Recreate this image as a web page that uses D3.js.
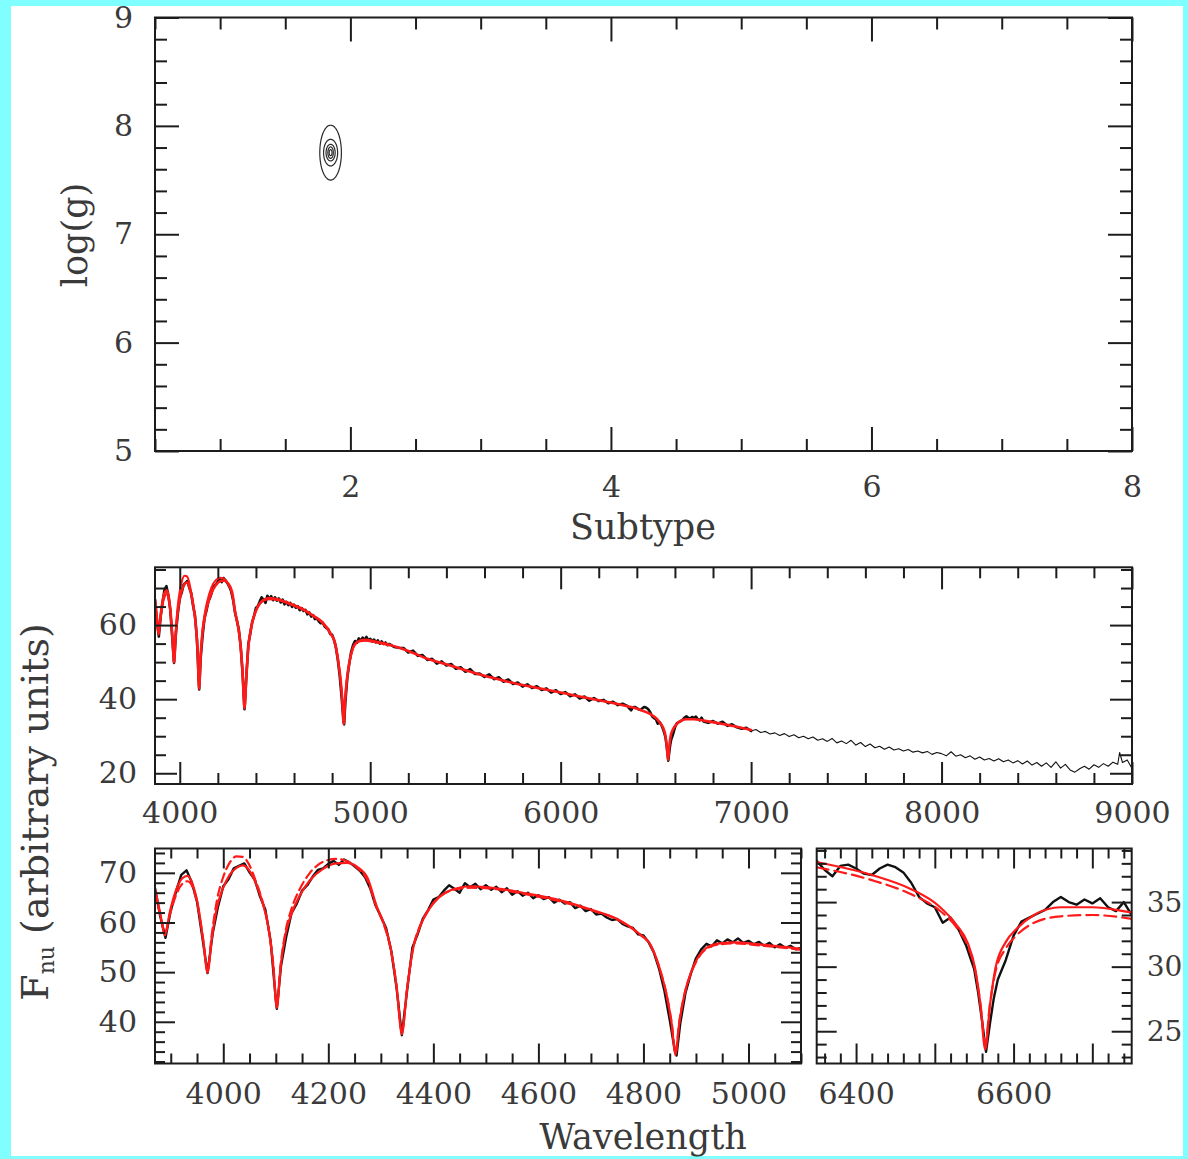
<!DOCTYPE html>
<html><head><meta charset="utf-8">
<script src="https://cdn.jsdelivr.net/npm/d3@7"></script>
<style>
html,body{margin:0;padding:0;background:#7fffff;}
svg{display:block;}
</style></head><body>
<script>
// ---------------- DATA ----------------
// Top panel: likelihood contours in (subtype, log g)
const contourCenter = [1.848, 7.753];
const contourSemiAxes = [[0.083,0.253],[0.054,0.123],[0.035,0.077],[0.021,0.053],[0.011,0.028]];

// Observed spectrum (wavelength, F_nu) in segments
const obsBlue = [[3870,66.9],[3880,61.2],[3890,56.9],[3900,62.4],[3910,66.2],[3920,69.6],[3930,70.5],[3940,68.1],[3950,64.2],[3960,57.1],[3970,49.8],[3980,57.9],[3990,63.2],[4000,67.3],[4010,68.7],[4020,70.9],[4030,71.4],[4040,71.9],[4050,70.1],[4060,68.6],[4070,65.2],[4080,62.6],[4090,56.4],[4100,44.5],[4102,42.6],[4110,51.3],[4120,57.2],[4130,61.9],[4140,63.8],[4150,66.4],[4160,67.5],[4170,69.2],[4180,70.6],[4190,70.9],[4200,71.8],[4210,72.4],[4220,71.6],[4230,72.7],[4240,72.1],[4250,71.3],[4260,70.4],[4270,69.1],[4280,66.8],[4290,63.4],[4300,61.2],[4310,58.9],[4320,54.2],[4330,46.8],[4340,37.3],[4350,46.3],[4360,54.9],[4370,57.6],[4380,60.8],[4390,62.5],[4400,64.6],[4410,65.1],[4420,66.4],[4430,67.5],[4440,66.8],[4450,66.0],[4460,67.9],[4470,67.1],[4480,67.8],[4490,66.7],[4500,67.5],[4510,66.6],[4520,67.2],[4530,66.1],[4540,66.9],[4550,65.6],[4560,66.3],[4570,65.4],[4580,66.0],[4590,64.9],[4600,65.5],[4610,64.7],[4620,65.1],[4630,64.0],[4640,64.6],[4650,63.8],[4660,64.1],[4670,62.9],[4680,63.4],[4690,62.3],[4700,62.7],[4710,61.6],[4720,61.8],[4730,61.0],[4740,60.5],[4750,60.7],[4760,59.7],[4770,59.2],[4780,58.9],[4790,57.6],[4800,57.4],[4810,56.0],[4820,53.9],[4830,50.6],[4840,46.2],[4850,40.4],[4860,34.0],[4863,33.2],[4870,39.6],[4880,45.8],[4890,49.6],[4900,52.8],[4910,54.6],[4920,55.7],[4930,55.2],[4940,56.4],[4950,55.8],[4960,56.6],[4970,56.0],[4980,56.8],[4990,55.9],[5000,56.3],[5010,55.6],[5020,56.1],[5030,55.3],[5040,55.9],[5050,55.0],[5060,55.6],[5070,54.9],[5080,55.3],[5090,54.6],[5100,54.9]];
const obsGreen = [[5125,54.1],[5150,53.9],[5175,53.8],[5200,52.6],[5225,53.1],[5250,51.7],[5275,51.9],[5300,50.6],[5325,50.9],[5350,49.6],[5375,50.2],[5400,49.1],[5425,49.5],[5450,48.2],[5475,48.6],[5500,47.4],[5525,48.1],[5550,46.8],[5575,46.9],[5600,46.0],[5625,46.7],[5650,45.4],[5675,45.9],[5700,44.7],[5725,45.3],[5750,44.1],[5775,44.5],[5800,43.4],[5825,44.0],[5850,43.0],[5875,43.5],[5900,42.5],[5925,42.9],[5950,41.8],[5975,42.4],[6000,41.4],[6025,41.9],[6050,40.8],[6075,41.3],[6100,40.2],[6125,40.7],[6150,39.6],[6175,40.3],[6200,39.5],[6225,39.8],[6250,38.9],[6275,39.3],[6300,38.4],[6325,38.8]];
const obsHalpha = [[6350,38.2],[6360,37.5],[6370,37.0],[6380,37.8],[6390,37.9],[6400,37.6],[6410,37.2],[6420,37.1],[6430,37.6],[6440,37.9],[6450,37.7],[6460,37.3],[6470,36.5],[6480,35.4],[6490,34.9],[6500,34.6],[6510,33.4],[6520,33.8],[6530,32.9],[6540,31.6],[6550,29.8],[6555,28.0],[6560,25.8],[6565,23.4],[6570,25.6],[6575,27.6],[6580,29.0],[6590,30.5],[6600,32.4],[6610,33.5],[6620,33.8],[6630,34.1],[6640,34.4],[6650,35.0],[6660,35.4],[6670,35.0],[6680,34.8],[6690,35.2],[6700,34.9],[6710,35.3],[6720,34.6],[6730,34.3],[6740,35.0],[6750,34.0]];
const obsRed = [[6775,33.6],[6800,34.1],[6825,33.4],[6850,33.9],[6875,32.8],[6900,33.2],[6925,32.4],[6950,32.0],[6975,32.3],[7000,31.4],[7025,31.8],[7050,31.0],[7075,31.3],[7100,30.6],[7125,30.9],[7150,30.2],[7175,30.7],[7200,29.9],[7225,30.4],[7250,29.6],[7275,30.0],[7300,29.3],[7325,29.8],[7350,28.9],[7375,29.3],[7400,28.6],[7425,29.4],[7450,28.2],[7475,28.7],[7500,28.0],[7525,28.9],[7550,27.6],[7575,28.3],[7600,27.2],[7625,27.9],[7650,26.9],[7675,27.3],[7700,26.5],[7725,27.1],[7750,26.3],[7775,26.6],[7800,26.0],[7825,26.4],[7850,25.7],[7875,26.0],[7900,25.5],[7925,25.9],[7950,25.1],[7975,25.6],[8000,25.3],[8025,24.7],[8050,25.8],[8075,24.6],[8100,25.0],[8125,24.2],[8150,24.7],[8175,23.8],[8200,24.4],[8225,23.6],[8250,24.0],[8275,23.3],[8300,23.9],[8325,23.1],[8350,23.6],[8375,22.8],[8400,23.4],[8425,22.5],[8450,23.3],[8475,22.2],[8500,22.9],[8525,21.9],[8550,22.8],[8575,21.6],[8600,23.1],[8625,21.4],[8650,22.4],[8675,20.9],[8700,20.3],[8725,21.2],[8750,21.9],[8775,21.1],[8800,22.3],[8825,21.6],[8850,22.6],[8875,21.9],[8900,23.0],[8925,22.4],[8935,25.6],[8950,22.9],[8975,23.6],[9000,21.3]];

// Best-fit model (solid red) and alternative model (dashed red)
const modelSolid = [[3870,66.8],[3880,61.8],[3889,57.4],[3898,62.0],[3910,66.5],[3922,68.9],[3932,69.4],[3942,67.6],[3952,63.4],[3962,56.2],[3970,49.9],[3978,56.6],[3988,63.0],[4000,67.0],[4012,69.6],[4025,71.0],[4037,71.5],[4050,70.4],[4062,67.9],[4074,64.3],[4086,58.9],[4095,51.5],[4102,42.8],[4109,51.0],[4118,57.4],[4130,61.8],[4145,65.3],[4165,68.5],[4190,70.8],[4215,71.9],[4235,72.0],[4255,71.2],[4275,68.9],[4292,63.3],[4305,60.0],[4318,55.2],[4330,47.0],[4340,37.5],[4350,46.6],[4362,55.0],[4375,59.3],[4392,62.7],[4410,65.0],[4435,66.6],[4470,67.3],[4520,66.9],[4580,65.8],[4640,64.5],[4700,62.6],[4750,60.7],[4790,57.9],[4815,55.2],[4833,50.0],[4845,45.0],[4854,39.4],[4861,33.3],[4868,39.6],[4878,45.5],[4890,49.8],[4904,53.0],[4920,54.9],[4945,55.8],[4975,56.0],[5020,55.6],[5100,54.7],[5200,53.0],[5300,50.9],[5400,49.4],[5500,47.8],[5600,46.3],[5700,45.0],[5800,43.8],[5900,42.8],[6000,41.8],[6100,40.7],[6200,39.7],[6300,38.7],[6350,38.1],[6420,37.1],[6470,36.0],[6505,34.7],[6528,33.2],[6542,31.8],[6551,29.9],[6558,27.0],[6564,23.6],[6570,27.0],[6577,29.9],[6590,31.9],[6605,33.0],[6626,34.0],[6660,34.6],[6700,34.6],[6750,34.2],[6850,33.3],[6930,32.5],[7000,31.7]];
const modelDashedBlue = [[3870,66.0],[3880,61.5],[3889,58.0],[3898,61.5],[3910,65.5],[3922,67.8],[3932,68.3],[3942,67.0],[3952,63.0],[3962,56.4],[3970,50.5],[3978,57.5],[3988,64.5],[4000,69.2],[4012,72.0],[4025,73.3],[4037,73.2],[4050,71.5],[4062,68.3],[4074,64.5],[4086,59.0],[4095,51.8],[4102,43.5],[4109,51.3],[4118,57.9],[4130,62.8],[4145,66.6],[4165,70.0],[4190,72.2],[4215,72.8],[4235,72.4],[4255,71.0],[4275,68.4],[4292,63.0],[4305,59.8],[4318,55.0],[4330,47.2],[4340,38.0],[4350,46.8],[4362,55.1],[4375,59.4],[4392,62.8],[4410,65.0],[4435,66.5],[4470,67.0],[4520,66.7],[4580,65.6],[4640,64.3],[4700,62.5],[4750,60.6],[4790,57.8],[4815,55.1],[4833,50.0],[4845,45.0],[4854,39.6],[4861,33.8],[4868,39.8],[4878,45.5],[4890,49.6],[4904,52.8],[4920,54.7],[4945,55.6],[4975,55.8],[5020,55.4],[5100,54.5]];
const modelDashedHalpha = [[6350,37.7],[6420,36.7],[6470,35.6],[6505,34.4],[6528,33.0],[6542,31.6],[6551,29.8],[6558,27.1],[6564,24.0],[6570,27.1],[6577,29.6],[6590,31.4],[6605,32.5],[6626,33.4],[6660,33.9],[6700,34.0],[6750,33.7]];

// Tick labels
const topXLabels = [2,4,6,8];
const topYLabels = [5,6,7,8,9];
const midXLabels = [4000,5000,6000,7000,8000,9000];
const midYLabels = [20,40,60];
const blXLabels = [4000,4200,4400,4600,4800,5000];
const blYLabels = [40,50,60,70];
const brXLabels = [6400,6600];
const brYLabels = [25,30,35];

// ---------------- DRAWING ----------------
const W = 1188, H = 1159;
const FONT = "'DejaVu Serif', 'Liberation Serif', serif";
const INK = '#1c1c1c', TXT = '#3a3a3a';
const RED = '#ff1a1a';
const svg = d3.select('body').append('svg').attr('width', W).attr('height', H);
svg.append('rect').attr('x', 11).attr('y', 6).attr('width', 1172).attr('height', 1150).attr('fill', '#fff');

const obsAll = obsBlue.concat(obsGreen, obsHalpha, obsRed);
let clipN = 0;

function notIn(list, maj) {
  return list.filter(v => !maj.some(m => Math.abs(m - v) < 1e-6));
}

function makePanel(o) {
  const x = d3.scaleLinear().domain(o.xDom).range([o.l, o.r]);
  const y = d3.scaleLinear().domain(o.yDom).range([o.b, o.t]);
  const g = svg.append('g');
  const id = 'clip' + (clipN++);
  svg.append('clipPath').attr('id', id).append('rect')
    .attr('x', o.l).attr('y', o.t).attr('width', o.r - o.l).attr('height', o.b - o.t);
  const plot = g.append('g').attr('clip-path', `url(#${id})`);
  const axes = g.append('g');
  function tickAxis(fn, sc, tr, vals, len) {
    const a = fn(sc).tickValues(vals).tickSize(-len).tickFormat('');
    const s = axes.append('g').attr('transform', tr).call(a);
    s.select('.domain').remove();
    s.selectAll('line').attr('stroke', INK).attr('stroke-width', 2);
  }
  [[d3.axisBottom, x, `translate(0,${o.b})`, o.xMaj, o.xMin],
   [d3.axisTop, x, `translate(0,${o.t})`, o.xMaj, o.xMin],
   [d3.axisLeft, y, `translate(${o.l},0)`, o.yMaj, o.yMin],
   [d3.axisRight, y, `translate(${o.r},0)`, o.yMaj, o.yMin]].forEach(([fn, sc, tr, maj, mn]) => {
    tickAxis(fn, sc, tr, maj, o.majLen);
    tickAxis(fn, sc, tr, notIn(mn, maj), o.minLen);
  });
  function labelAxis(fn, sc, tr, vals, pad, fs) {
    const a = fn(sc).tickValues(vals).tickSize(0).tickPadding(pad).tickFormat(d3.format('d'));
    const s = axes.append('g').attr('transform', tr).call(a);
    s.select('.domain').remove();
    s.selectAll('text').attr('font-family', FONT).attr('font-size', fs || 30).attr('fill', TXT);
  }
  if (o.xLab) labelAxis(d3.axisBottom, x, `translate(0,${o.b})`, o.xLab, o.xPad);
  if (o.yLabL) labelAxis(d3.axisLeft, y, `translate(${o.l},0)`, o.yLabL, o.yPad);
  if (o.yLabR) labelAxis(d3.axisRight, y, `translate(${o.r},0)`, o.yLabR, o.yPad, 28);
  g.append('rect').attr('x', o.l).attr('y', o.t).attr('width', o.r - o.l).attr('height', o.b - o.t)
    .attr('fill', 'none').attr('stroke', INK).attr('stroke-width', 2);
  return { x, y, plot };
}

function drawLine(p, data, color, width, dash, curve) {
  const line = d3.line().x(d => p.x(d[0])).y(d => p.y(d[1])).curve(curve || d3.curveLinear);
  const path = p.plot.append('path').datum(data).attr('d', line)
    .attr('fill', 'none').attr('stroke', color).attr('stroke-width', width)
    .attr('stroke-linejoin', 'round').attr('stroke-linecap', 'round');
  if (dash) path.attr('stroke-dasharray', dash);
  return path;
}

// ---- Top panel ----
const topP = makePanel({
  l: 155, r: 1132, t: 17.5, b: 451, xDom: [0.5, 8], yDom: [5, 9],
  xMaj: [2, 4, 6, 8], xMin: d3.range(0.5, 8.01, 0.5),
  yMaj: [5, 6, 7, 8, 9], yMin: d3.range(5, 9.001, 0.2),
  majLen: 24, minLen: 12, xLab: topXLabels, xPad: 25, yLabL: topYLabels, yPad: 22
});
contourSemiAxes.forEach(([rx, ry]) => {
  const pts = d3.range(0, 360, 6).map(a => {
    const t = a * Math.PI / 180;
    return [contourCenter[0] + rx * Math.cos(t), contourCenter[1] + ry * Math.sin(t)];
  });
  drawLine(topP, pts, '#2a2a2a', 1.2, null, d3.curveCardinalClosed);
});

// ---- Middle panel ----
const midP = makePanel({
  l: 155, r: 1132, t: 567.3, b: 784, xDom: [3870, 9000], yDom: [17.1, 75.6],
  xMaj: midXLabels, xMin: d3.range(4000, 9001, 200),
  yMaj: midYLabels, yMin: d3.range(20, 75.1, 5),
  majLen: 22, minLen: 11, xLab: midXLabels, xPad: 18, yLabL: midYLabels, yPad: 18
});
drawLine(midP, obsAll, '#111', 1.1);
drawLine(midP, obsAll.filter(d => d[0] <= 7000), '#111', 2.6);
drawLine(midP, modelDashedBlue, RED, 2, null, d3.curveMonotoneX);
drawLine(midP, modelSolid, RED, 2.6, null, d3.curveMonotoneX);

// ---- Bottom-left panel ----
const blP = makePanel({
  l: 155, r: 801, t: 848.5, b: 1063.5, xDom: [3870, 5100], yDom: [31.6, 74.9],
  xMaj: blXLabels, xMin: d3.range(3900, 5101, 50),
  yMaj: blYLabels, yMin: d3.range(32, 74.1, 2),
  majLen: 20, minLen: 10, xLab: blXLabels, xPad: 19, yLabL: blYLabels, yPad: 18
});
drawLine(blP, obsBlue, '#111', 2.4);
drawLine(blP, modelSolid.filter(d => d[0] <= 5120), RED, 2.2, null, d3.curveMonotoneX);
drawLine(blP, modelDashedBlue, RED, 2.2, '9,5', d3.curveMonotoneX);

// ---- Bottom-right panel ----
const brP = makePanel({
  l: 816.7, r: 1131.7, t: 848.5, b: 1063.5, xDom: [6350, 6750], yDom: [22.5, 39.15],
  xMaj: [6400, 6500, 6600, 6700], xMin: d3.range(6360, 6751, 20),
  yMaj: brYLabels, yMin: d3.range(23, 39.1, 1),
  majLen: 20, minLen: 10, xLab: brXLabels, xPad: 19, yLabR: brYLabels, yPad: 15
});
drawLine(brP, obsHalpha, '#111', 2.4);
drawLine(brP, modelSolid.filter(d => d[0] >= 6300 && d[0] <= 6850), RED, 2.2, null, d3.curveMonotoneX);
drawLine(brP, modelDashedHalpha, RED, 2.2, '12,6', d3.curveMonotoneX);

// ---- Axis titles ----
function title(txt, x, y, rot, fs) {
  return svg.append('text').attr('transform', `translate(${x},${y}) rotate(${rot})`)
    .attr('text-anchor', 'middle').attr('font-family', FONT).attr('font-size', fs)
    .attr('fill', TXT).text(txt);
}
title('log(g)', 87, 235, -90, 35);
title('Subtype', 643, 539, 0, 35);
title('Wavelength', 643, 1149, 0, 35);
const fl = svg.append('text').attr('transform', 'translate(48,812) rotate(-90)')
  .attr('text-anchor', 'middle').attr('font-family', FONT).attr('font-size', 38).attr('fill', TXT);
fl.append('tspan').text('F');
fl.append('tspan').attr('font-size', 22).attr('dy', 6).text('nu');
fl.append('tspan').attr('dy', -6).text(' (arbitrary units)');
</script>
</body></html>
